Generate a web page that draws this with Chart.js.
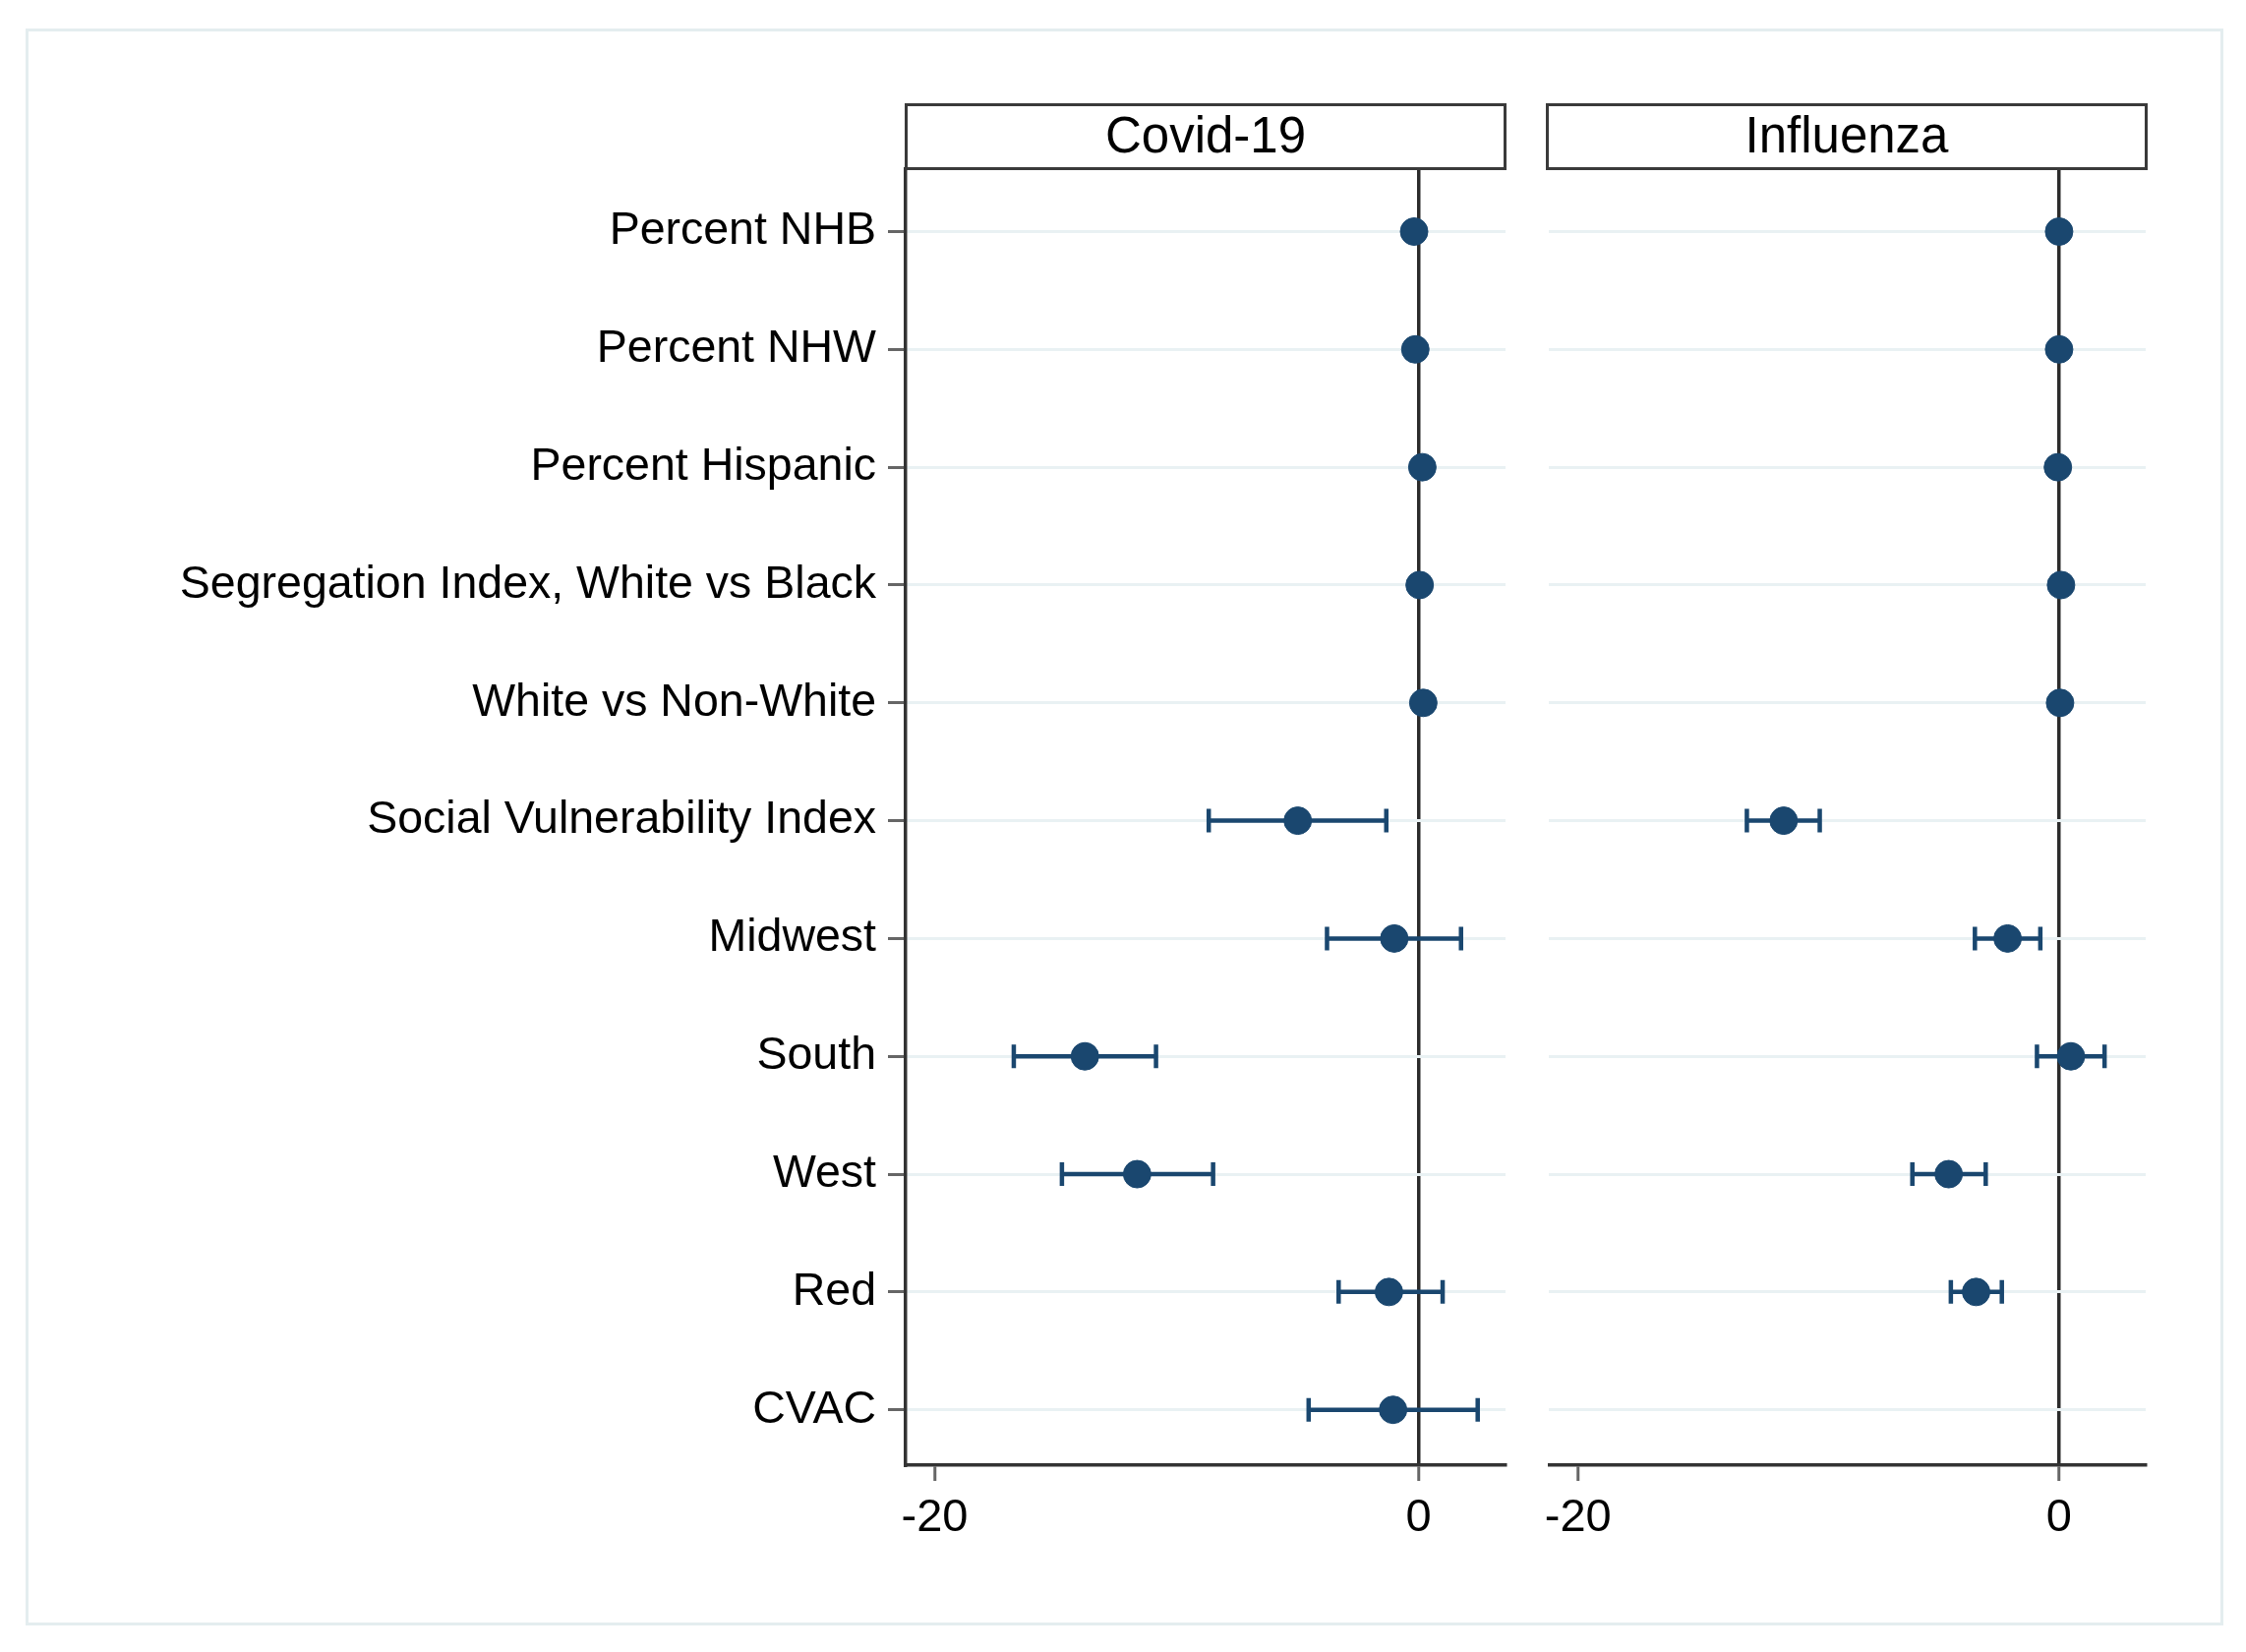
<!DOCTYPE html>
<html>
<head>
<meta charset="utf-8">
<script src="https://cdn.jsdelivr.net/npm/chart.js@4.4.1/dist/chart.umd.min.js"></script>
<style>
  html, body { margin:0; padding:0; background:#fff; }
  body { width:2284px; height:1680px; position:relative; overflow:hidden; font-family:"Liberation Sans", Arial, Helvetica, sans-serif; }
  .frame { position:absolute; left:26px; top:29px; width:2235px; height:1624px; border:3px solid #e4edef; box-sizing:border-box; }
  canvas { position:absolute; top:0; }
  .hdr { position:absolute; top:105px; height:68px; border:3px solid #3a3a3a; box-sizing:border-box; background:#fff;
         font-size:51px; line-height:60px; text-align:center; color:#000; }
</style>
</head>
<body>
<div class="frame"></div>
<canvas id="c1" width="1560" height="1680" style="left:0px;width:1560px;height:1680px"></canvas>
<canvas id="c2" width="724" height="1680" style="left:1560px;width:724px;height:1680px"></canvas>
<div class="hdr" style="left:920px;width:612px;">Covid-19</div>
<div class="hdr" style="left:1572px;width:612px;">Influenza</div>
<script>
const categories = ["Percent NHB", "Percent NHW", "Percent Hispanic", "Segregation Index, White vs Black",
  "White vs Non-White", "Social Vulnerability Index", "Midwest", "South", "West", "Red", "CVAC"];
const panelTitles = ["Covid-19", "Influenza"];
const xTickValues = [-20, 0];

const covidEst = [-0.18, -0.13, 0.16, 0.05, 0.2, -4.99, -1.0, -13.79, -11.63, -1.22, -1.05];
const covidLo  = [null, null, null, null, null, -8.67, -3.78, -16.73, -14.74, -3.30, -4.54];
const covidHi  = [null, null, null, null, null, -1.33, 1.76, -10.85, -8.49, 1.0, 2.45];

const fluEst = [0.0, 0.0, -0.05, 0.08, 0.04, -11.45, -2.14, 0.49, -4.59, -3.45, null];
const fluLo  = [null, null, null, null, null, -12.98, -3.5, -0.92, -6.1, -4.5, null];
const fluHi  = [null, null, null, null, null, -9.95, -0.78, 1.89, -3.05, -2.38, null];

const NAVY = '#1a476f';
const FONT = "'Liberation Sans', Arial, Helvetica, sans-serif";

const errorBars = {
  id: 'errorBars',
  beforeDatasetsDraw(chart, args, opts) {
    const {ctx, scales:{x, y}} = chart;
    ctx.save();
    ctx.strokeStyle = NAVY;
    ctx.lineWidth = 4.5;
    opts.lo.forEach((lo, i) => {
      const hi = opts.hi[i];
      if (lo === null || hi === null) return;
      const py = y.getPixelForValue(i);
      const x1 = x.getPixelForValue(lo), x2 = x.getPixelForValue(hi);
      ctx.beginPath();
      ctx.moveTo(x1, py); ctx.lineTo(x2, py);
      ctx.moveTo(x1, py - 12); ctx.lineTo(x1, py + 12);
      ctx.moveTo(x2, py - 12); ctx.lineTo(x2, py + 12);
      ctx.stroke();
    });
    ctx.restore();
  }
};

function makeChart(id, est, lo, hi, showY, pad, yWidth) {
  const pts = [];
  est.forEach((v, i) => { if (v !== null) pts.push({x: v, y: i}); });
  return new Chart(document.getElementById(id), {
    type: 'scatter',
    data: { datasets: [{ data: pts, backgroundColor: NAVY, borderColor: NAVY, pointRadius: 14, pointHoverRadius: 14 }] },
    options: {
      responsive: false, animation: false, devicePixelRatio: 1,
      layout: { padding: pad },
      plugins: { legend: { display: false }, tooltip: { enabled: false }, errorBars: { lo: lo, hi: hi } },
      scales: {
        x: {
          type: 'linear', min: -21.2, max: 3.6,
          afterBuildTicks: s => { s.ticks = xTickValues.map(v => ({value: v})); },
          afterFit: s => { s.height = 100; },
          grid: {
            color: c => (c.tick && c.tick.value === 0) ? '#2b2b2b' : 'rgba(0,0,0,0)',
            lineWidth: 3.5, drawTicks: true, tickLength: 16, tickColor: '#666', tickWidth: 3
          },
          border: { display: true, color: '#333', width: 3.5 },
          ticks: { color: '#000', font: { family: FONT, size: 47 }, padding: 10, maxRotation: 0, autoSkip: false }
        },
        y: {
          type: 'linear', min: -0.53, max: 10.47, reverse: true,
          afterBuildTicks: s => { s.ticks = categories.map((c, i) => ({value: i})); },
          afterFit: s => { s.width = yWidth; },
          grid: { color: '#e9f1f3', lineWidth: 3, drawTicks: showY, tickLength: 18, tickColor: '#666', tickWidth: 3 },
          border: { display: showY, color: '#333', width: 3.5 },
          ticks: { display: showY, color: '#000', font: { family: FONT, size: 46.5 }, padding: 12, autoSkip: false,
                   callback: v => categories[v] }
        }
      }
    },
    plugins: [errorBars]
  });
}

makeChart('c1', covidEst, covidLo, covidHi, true, {top: 172, right: 29, bottom: 90, left: 0}, 921);
makeChart('c2', fluEst, fluLo, fluHi, false, {top: 172, right: 102, bottom: 90, left: 0}, 13);
</script>
</body>
</html>
